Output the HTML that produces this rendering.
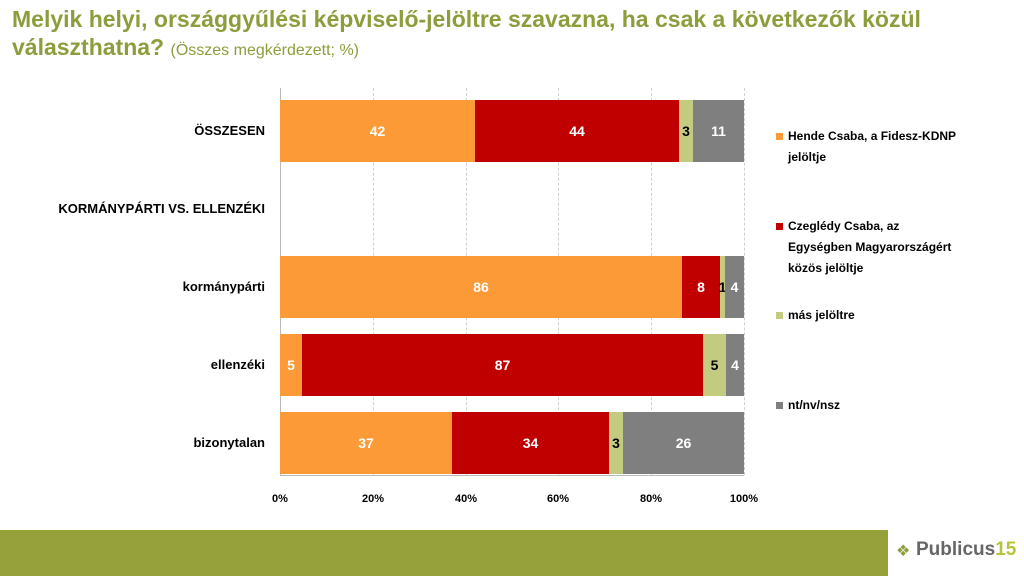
<!DOCTYPE html>
<html><head><meta charset="utf-8"><style>
body{margin:0;width:1024px;height:576px;background:#fff;position:relative;overflow:hidden;font-family:"Liberation Sans",sans-serif}
.t{position:absolute;left:12px;top:5px;color:#8c9d3c;font-weight:bold;font-size:23px;line-height:28px}
.t span{font-weight:normal;font-size:16px}
.lab{position:absolute;font-weight:bold;font-size:13px;color:#000;text-align:right;right:759px}
.seg{position:absolute;height:62px;color:#fff;font-weight:bold;font-size:14px;display:flex;align-items:center;justify-content:center}
.g{position:absolute;top:88px;height:387px;border-left:1px dashed #d0d0d0}
.tk{position:absolute;top:493px;font-size:11px;font-weight:bold;width:40px;text-align:center}
.lg{position:absolute;left:788px;font-size:12px;font-weight:bold;line-height:21px}
.sq{position:absolute;left:776px;width:7px;height:7px}
</style></head><body>
<div class="t">Melyik helyi, országgyűlési képviselő-jelöltre szavazna, ha csak a következők közül<br>választhatna? <span>(Összes megkérdezett; %)</span></div>
<div class="g" style="left:280px;border-left:1px solid #bbb"></div>
<div class="g" style="left:373px"></div><div class="g" style="left:466px"></div><div class="g" style="left:558px"></div><div class="g" style="left:651px"></div><div class="g" style="left:744px"></div>
<div style="position:absolute;left:280px;top:475px;width:464px;border-top:1px solid #bbb"></div>
<div class="tk" style="left:260px">0%</div><div class="tk" style="left:353px">20%</div><div class="tk" style="left:446px">40%</div><div class="tk" style="left:538px">60%</div><div class="tk" style="left:631px">80%</div><div class="tk" style="left:724px">100%</div>
<div class="lab" style="top:123px">ÖSSZESEN</div>
<div class="lab" style="top:201px">KORMÁNYPÁRTI VS. ELLENZÉKI</div>
<div class="lab" style="top:279px">kormánypárti</div>
<div class="lab" style="top:357px">ellenzéki</div>
<div class="lab" style="top:435px">bizonytalan</div>
<div class="seg" style="top:100px;left:280px;width:195px;background:#fb9a36">42</div>
<div class="seg" style="top:100px;left:475px;width:204px;background:#c00000">44</div>
<div class="seg" style="top:100px;left:679px;width:14px;background:#c3cb81;color:#000">3</div>
<div class="seg" style="top:100px;left:693px;width:51px;background:#7f7f7f">11</div>
<div class="seg" style="top:256px;left:280px;width:402px;background:#fb9a36">86</div>
<div class="seg" style="top:256px;left:682px;width:38px;background:#c00000">8</div>
<div class="seg" style="top:256px;left:720px;width:5px;background:#c3cb81;color:#000">1</div>
<div class="seg" style="top:256px;left:725px;width:19px;background:#7f7f7f">4</div>
<div class="seg" style="top:334px;left:280px;width:22px;background:#fb9a36">5</div>
<div class="seg" style="top:334px;left:302px;width:401px;background:#c00000">87</div>
<div class="seg" style="top:334px;left:703px;width:23px;background:#c3cb81;color:#000">5</div>
<div class="seg" style="top:334px;left:726px;width:18px;background:#7f7f7f">4</div>
<div class="seg" style="top:412px;left:280px;width:172px;background:#fb9a36">37</div>
<div class="seg" style="top:412px;left:452px;width:157px;background:#c00000">34</div>
<div class="seg" style="top:412px;left:609px;width:14px;background:#c3cb81;color:#000">3</div>
<div class="seg" style="top:412px;left:623px;width:121px;background:#7f7f7f">26</div>
<div class="sq" style="top:133px;background:#fb9a36"></div><div class="lg" style="top:126px">Hende Csaba, a Fidesz-KDNP<br>jelöltje</div>
<div class="sq" style="top:223px;background:#c00000"></div><div class="lg" style="top:216px">Czeglédy Csaba, az<br>Egységben Magyarországért<br>közös jelöltje</div>
<div class="sq" style="top:312px;background:#c3cb81"></div><div class="lg" style="top:305px">más jelöltre</div>
<div class="sq" style="top:402px;background:#7f7f7f"></div><div class="lg" style="top:395px">nt/nv/nsz</div>
<div style="position:absolute;left:0;top:530px;width:888px;height:46px;background:#97a13b"></div>
<div style="position:absolute;left:896px;top:541px;color:#8c9d3c;font-size:16px">❖</div>
<div style="position:absolute;left:916px;top:539px;font-size:19px;font-weight:bold;color:#666">Publicus<span style="color:#b5c43a">15</span></div>
</body></html>
